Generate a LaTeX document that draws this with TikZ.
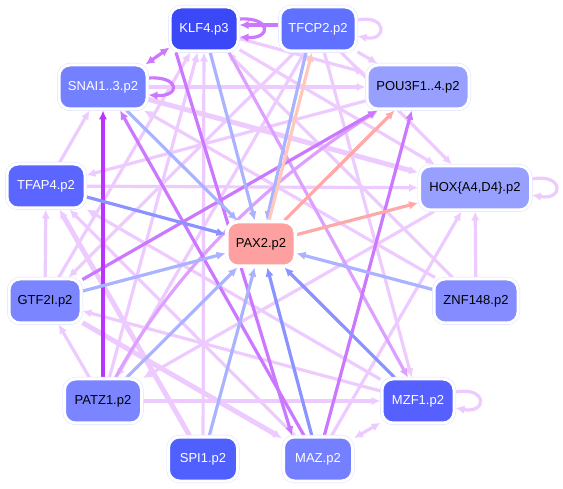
\documentclass[tikz,border=0pt]{standalone}
\usepackage{fontspec}
\setmainfont{Liberation Sans}
\usetikzlibrary{arrows.meta,backgrounds}
\definecolor{cLav}{HTML}{EECBFF}
\definecolor{cLPur}{HTML}{DDA0FF}
\definecolor{cPur}{HTML}{CC77FF}
\definecolor{cDPur}{HTML}{BB33FF}
\definecolor{cBlu}{HTML}{AAB3FF}
\definecolor{cBluM}{HTML}{8A93FF}
\definecolor{cSal}{HTML}{FFA8A8}
\definecolor{cLSal}{HTML}{FFC8BC}
\definecolor{cBorder}{HTML}{DCDFFF}
\definecolor{cKLF}{HTML}{3A48F8}
\definecolor{cTFCP}{HTML}{6070FF}
\definecolor{cSNAI}{HTML}{7380FF}
\definecolor{cPOU}{HTML}{98A0FF}
\definecolor{cTFAP}{HTML}{5A66FF}
\definecolor{cHOX}{HTML}{98A0FF}
\definecolor{cPAX}{HTML}{FFA0A0}
\definecolor{cGTF}{HTML}{7A85FF}
\definecolor{cZNF}{HTML}{848CFF}
\definecolor{cPATZ}{HTML}{7A85FF}
\definecolor{cMZF}{HTML}{5560FF}
\definecolor{cSPI}{HTML}{5060FF}
\definecolor{cMAZ}{HTML}{7480FF}
\tikzset{
  box/.style={rounded corners=11pt, inner sep=0pt, minimum height=44pt,
    font=\fontsize{13}{15}\selectfont, draw=white, line width=3pt,
    preaction={draw=cBorder, line width=4pt}},
  ed/.style={line width=3.2pt,-{Latex[length=9pt,width=8.5pt]}},
  bothtips/.style={{Latex[length=9pt,width=8.5pt]}-{Latex[length=9pt,width=8.5pt]}},
  lav/.style={ed,draw=cLav},
  lavT/.style={lav,line width=5pt},
  lpur/.style={ed,draw=cLPur},
  pur/.style={ed,draw=cPur},
  dpur/.style={ed,draw=cDPur,line width=3.6pt},
  blu/.style={ed,draw=cBlu},
  bluM/.style={ed,draw=cBluM},
  sal/.style={ed,draw=cSal},
  lsal/.style={ed,draw=cLSal},
}
\begin{document}
\begin{tikzpicture}[x=1pt,y=-1pt]
\useasboundingbox (0,0) rectangle (563,489);
% nodes
\node[box, fill=cKLF, text=white, minimum width=68pt] (klf) at (204,29) {KLF4.p3};
\node[box, fill=cTFCP, text=white, minimum width=76pt] (tfcp) at (318,29) {TFCP2.p2};
\node[box, fill=cSNAI, text=white, minimum width=88pt] (snai) at (103,87) {SNAI1..3.p2};
\node[box, fill=cPOU, text=black, minimum width=102pt] (pou) at (418,87) {POU3F1..4.p2};
\node[box, fill=cTFAP, text=white, minimum width=78pt] (tfap) at (46,186) {TFAP4.p2};
\node[box, fill=cHOX, text=black, minimum width=111pt] (hox) at (475,188) {HOX\{A4,D4\}.p2};
\node[box, fill=cPAX, text=black, minimum width=68pt, preaction={draw=white, line width=4pt}] (pax) at (261,244) {PAX2.p2};
\node[box, fill=cGTF, text=black, minimum width=72pt] (gtf) at (45,301) {GTF2I.p2};
\node[box, fill=cZNF, text=black, minimum width=84pt] (znf) at (476,301) {ZNF148.p2};
\node[box, fill=cPATZ, text=black, minimum width=77pt] (patz) at (103,401) {PATZ1.p2};
\node[box, fill=cMZF, text=white, minimum width=72pt] (mzf) at (418,401) {MZF1.p2};
\node[box, fill=cSPI, text=white, minimum width=69pt] (spi) at (203,459) {SPI1.p2};
\node[box, fill=cMAZ, text=white, minimum width=69pt] (maz) at (318,459) {MAZ.p2};
\begin{pgfonlayer}{background}
% lavender edges
\draw[lav] (snai) -- (pou);
\draw[lavT] (snai) -- (hox);
\draw[lav] (klf) -- (hox);
\draw[lav] (klf) -- (pou);
\draw[lav] (tfap) -- (hox);
\draw[lav] (tfcp) -- (pou);
\draw[lav] (tfcp) -- (hox);
\draw[lav] (tfcp) -- (mzf);
\draw[lav] (tfcp) -- (gtf);
\draw[lav] (tfcp) -- (patz);
\draw[lav] (patz) -- (klf);
\draw[lav] (gtf) -- (klf);
\draw[lav] (spi) -- (klf);
\draw[lav] (znf) -- (klf);
\draw[lav] (tfap) -- (snai);
\draw[lav] (pou) -- (tfap);
\draw[lav] (patz) -- (gtf);
\draw[lavT] (gtf) -- (maz);
\draw[lav] (patz) -- (mzf);
\draw[lav] (mzf) -- (gtf);
\draw[lav] (mzf) -- (tfap);
\draw[lavT] (spi) -- (tfap);
\draw[lav] (maz) -- (tfap);
\draw[lav] (gtf) -- (tfap);
\draw[lav] (znf) -- (hox);
\draw[lav] (znf) -- (snai);
\draw[lav] (maz) -- (hox);
\draw[lav] (hox) -- (patz);
\draw[lav,bothtips] (maz) -- (mzf);
% self loops (lavender)
\draw[lav] ([yshift=9pt]tfcp.east) .. controls +(30,-6) and +(30,6) .. ([yshift=-7pt]tfcp.east);
\draw[lav] ([yshift=9pt]hox.east) .. controls +(32,-6) and +(32,6) .. ([yshift=-7pt]hox.east);
\draw[lav] ([yshift=9pt]mzf.east) .. controls +(32,-6) and +(32,6) .. ([yshift=-7pt]mzf.east);
% purple edges
\draw[lpur] (patz) .. controls +(70,-130) and +(-110,70) .. ([xshift=-40pt]pou.south);
\draw[lpur] ([xshift=25pt]klf.south) -- ([xshift=-10pt]mzf.north);
\draw[pur] (maz) -- (pou);
\draw[pur] (gtf) -- (pou);
\draw[pur] ([xshift=-14pt]maz.north) -- ([xshift=17pt]snai.south);
\draw[pur] ([xshift=-28pt]klf.south) -- ([xshift=-26pt]maz.north);
\draw[dpur] (patz) -- (snai);
\draw[pur,bothtips] ([xshift=-3pt,yshift=-1pt]snai.north east) -- ([xshift=1pt,yshift=5pt]klf.south west);
\draw[pur] ([yshift=4pt]tfcp.west) -- ([yshift=4pt]klf.east);
\draw[pur] ([yshift=10pt]klf.east) .. controls +(32,-2) and +(32,2) .. ([yshift=-8pt]klf.east);
\draw[pur] ([yshift=9pt]snai.east) .. controls +(32,-2) and +(32,2) .. ([yshift=-8pt]snai.east);
% blue edges into PAX2
\draw[blu] (klf) -- (pax);
\draw[blu] (snai) -- (pax);
\draw[bluM] (tfap) -- (pax);
\draw[blu] (gtf) -- (pax);
\draw[blu] (patz) -- (pax);
\draw[blu] (spi) -- (pax);
\draw[bluM] (maz) -- (pax);
\draw[bluM] (mzf) -- (pax);
\draw[blu] (znf) -- (pax);
\draw[blu] ([xshift=-12pt]tfcp.south) -- (pax);
% salmon edges
\draw[sal] (pax) -- (hox);
\draw[sal] (pax) -- (pou);
\draw[lsal] ([xshift=8pt]pax.north) -- ([xshift=-6pt]tfcp.south);
\end{pgfonlayer}
\end{tikzpicture}
\end{document}
